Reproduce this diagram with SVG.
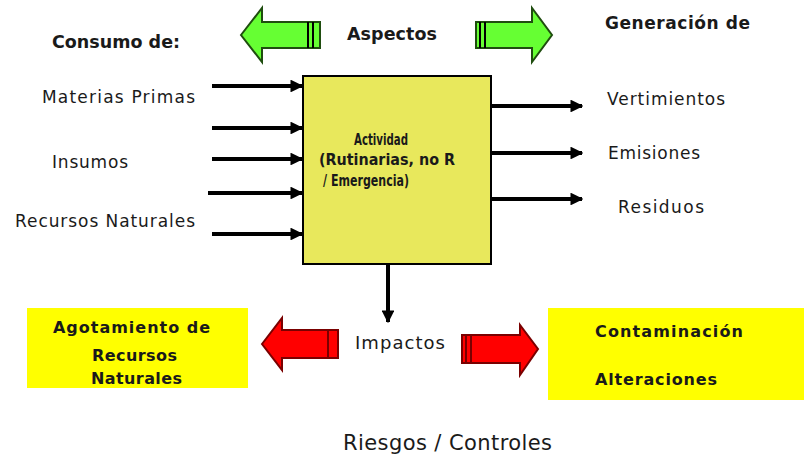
<svg xmlns="http://www.w3.org/2000/svg" width="804" height="460" viewBox="0 0 804 460">
<style>
text{font-family:"DejaVu Sans","Liberation Sans",sans-serif;fill:#1a1a1a}
.b{font-weight:bold}
.lab{font-size:17px}
.conn line{stroke:#000;stroke-width:4}
.green{fill:#66ff33;stroke:#1f4d0f;stroke-width:2}
.red{fill:#ff0000;stroke:#7a0000;stroke-width:2}
.stripe{stroke-width:2}
</style>
<defs>
<marker id="ah" viewBox="0 0 10 10" refX="9" refY="5" markerWidth="3.2" markerHeight="3.2" orient="auto" markerUnits="strokeWidth">
<path d="M0,0 L10,5 L0,10 z" fill="#000"/>
</marker>
</defs>
<rect width="804" height="460" fill="#fff"/>

<g id="consumo"><text x="52" y="48" class="b" font-size="17.5" textLength="128">Consumo de:</text></g>
<g id="aspectos"><text x="347" y="40" font-size="17.5" class="b" textLength="90">Aspectos</text></g>
<g id="generacion"><text x="605" y="29" font-size="17" class="b" textLength="145">Generación de</text></g>

<g id="arrow-aspectos-left">
<polygon class="green" points="241,35 262,8 262,22 320,22 320,48 262,48 262,62"/>
<line class="stripe" x1="308" y1="22" x2="308" y2="48" stroke="#000"/>
<line class="stripe" x1="313" y1="22" x2="313" y2="48" stroke="#000"/>
</g>
<g id="arrow-aspectos-right">
<polygon class="green" points="476,22 532,22 532,8 552,35 532,62 532,48 476,48"/>
<line class="stripe" x1="480" y1="22" x2="480" y2="48" stroke="#000"/>
<line class="stripe" x1="485" y1="22" x2="485" y2="48" stroke="#000"/>
</g>

<g id="actividad">
<rect x="303" y="76" width="188" height="188" fill="#e8e85c" stroke="#000" stroke-width="2"/>
<text x="354" y="145" font-size="15" class="b" textLength="54" lengthAdjust="spacingAndGlyphs">Actividad</text>
<text x="319" y="165" font-size="15" class="b" textLength="136" lengthAdjust="spacingAndGlyphs">(Rutinarias, no R</text>
<text x="323" y="186" font-size="15" class="b" textLength="86" lengthAdjust="spacingAndGlyphs">/ Emergencia)</text>
</g>

<g id="inputs">
<text x="42" y="103" class="lab" textLength="153">Materias Primas</text>
<text x="52" y="168" class="lab" textLength="76">Insumos</text>
<text x="15" y="227" class="lab" textLength="180">Recursos Naturales</text>
</g>
<g id="outputs">
<text x="607" y="105" class="lab" textLength="118">Vertimientos</text>
<text x="608" y="159" class="lab" textLength="92">Emisiones</text>
<text x="618" y="213" class="lab" textLength="86">Residuos</text>
</g>

<g class="conn" id="connectors">
<line x1="212" y1="86" x2="302" y2="86" marker-end="url(#ah)"/>
<line x1="212" y1="128" x2="302" y2="128" marker-end="url(#ah)"/>
<line x1="212" y1="159" x2="302" y2="159" marker-end="url(#ah)"/>
<line x1="208" y1="193" x2="302" y2="193" marker-end="url(#ah)"/>
<line x1="212" y1="234" x2="302" y2="234" marker-end="url(#ah)"/>
<line x1="491" y1="106" x2="582" y2="106" marker-end="url(#ah)"/>
<line x1="491" y1="153" x2="582" y2="153" marker-end="url(#ah)"/>
<line x1="491" y1="199" x2="582" y2="199" marker-end="url(#ah)"/>
<line x1="388" y1="264" x2="388" y2="322" marker-end="url(#ah)"/>
</g>

<g id="impactos"><text x="355" y="349" font-size="18" textLength="90">Impactos</text></g>

<g id="arrow-impactos-left">
<polygon class="red" points="262,344 282,318 282,330 338,330 338,358 282,358 282,370"/>
<line class="stripe" x1="328" y1="330" x2="328" y2="358" stroke="#7a0000"/>
</g>
<g id="arrow-impactos-right">
<polygon class="red" points="462,335 520,335 520,325 538,349 520,375 520,363 462,363"/>
<line class="stripe" x1="466" y1="335" x2="466" y2="363" stroke="#7a0000"/>
<line class="stripe" x1="471" y1="335" x2="471" y2="363" stroke="#7a0000"/>
</g>

<g id="agotamiento">
<rect x="27" y="308" width="221" height="80" fill="#ffff00"/>
<text x="53" y="333" font-size="16" class="b" textLength="157">Agotamiento de</text>
<text x="92" y="361" font-size="16" class="b" textLength="85">Recursos</text>
<text x="91" y="384" font-size="16" class="b" textLength="91">Naturales</text>
</g>

<g id="contaminacion">
<rect x="548" y="308" width="256" height="92" fill="#ffff00"/>
<text x="595" y="337" font-size="16" class="b" textLength="148">Contaminación</text>
<text x="595" y="385" font-size="16" class="b" textLength="122">Alteraciones</text>
</g>

<g id="riesgos"><text x="343" y="450" font-size="21" textLength="209">Riesgos / Controles</text></g>
</svg>
